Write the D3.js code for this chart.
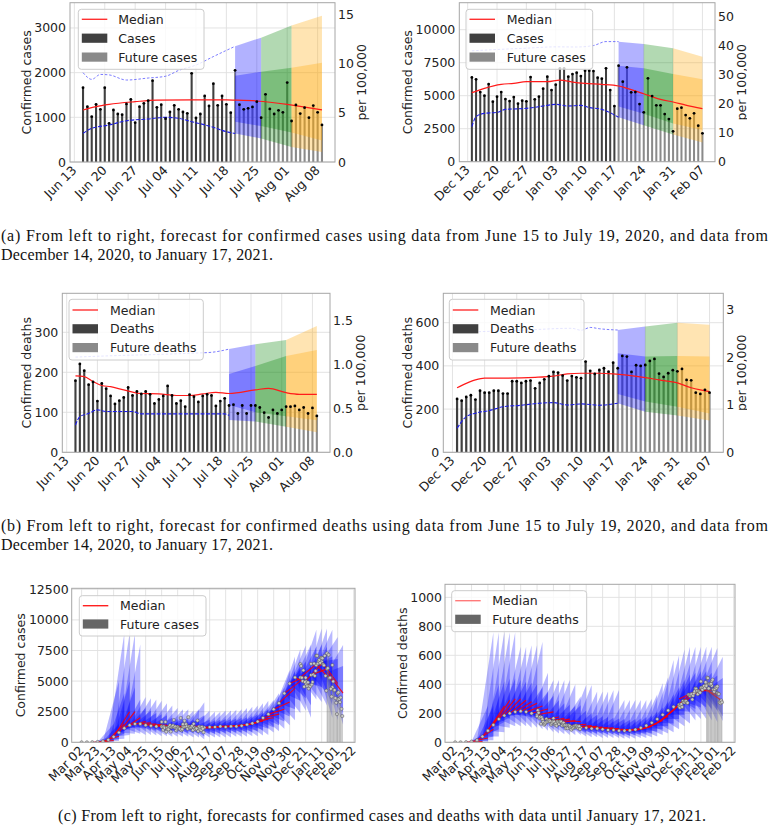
<!DOCTYPE html>
<html>
<head>
<meta charset="utf-8">
<script src="https://cdn.jsdelivr.net/npm/d3@7"></script>
<style>
html,body{margin:0;padding:0;background:#fff;}
svg{display:block;}
</style>
</head>
<body>
<svg id="fig" width="770" height="829" xmlns="http://www.w3.org/2000/svg"></svg>
<script>
// ======================= DATA =======================
const PER_100K = 220; // counts corresponding to 1 per 100,000

// ---- (a) left: cases, data Jun 15 - Jul 19 2020, forecast to Aug 09
const aLeftStart = "2020-06-15";
const aLeftObserved = [1664,1239,1015,1291,1179,1664,866,1164,1075,1060,1299,1403,881,1239,1313,1373,1821,1224,1284,970,1119,1269,1179,1119,1090,1985,985,1075,1478,1254,1754,1269,1478,1291,1104];
const aLeftFuture = [2053,1284,1180,1201,1232,1351,993,1515,1187,1075,1157,1112,1777,918,1277,1083,1217,993,1262,1112,829];
const aLeftMedian = [["2020-06-15",1164],["2020-06-18",1240],["2020-06-21",1290],["2020-06-27",1350],["2020-07-02",1385],["2020-07-10",1392],["2020-07-18",1390],["2020-07-20",1385],["2020-07-25",1365],["2020-08-01",1290],["2020-08-09",1165]];
const aLeftUpper = [["2020-06-15",2000],["2020-06-17",1850],["2020-06-19",1960],["2020-06-21",1950],["2020-06-25",1835],["2020-06-30",1880],["2020-07-04",1920],["2020-07-07",2050],["2020-07-11",2170],["2020-07-15",2360],["2020-07-20",2590]];
const aLeftLower = [["2020-06-15",642],["2020-06-17",754],["2020-06-21",828],["2020-06-25",925],["2020-06-30",963],["2020-07-04",1000],["2020-07-07",977],["2020-07-10",903],["2020-07-14",806],["2020-07-18",679],["2020-07-20",637]];
const aLeftBandDates = ["2020-07-20","2020-07-26","2020-08-02","2020-08-09"];
const aLeftHi95 = [2592,2784,3054,3274];
const aLeftHi50 = [1933,2021,2109,2219];
const aLeftLo50 = [901,804,659,483];
const aLeftLo95 = [637,527,338,226];
const aLeftXTicks = ["2020-06-13","2020-06-20","2020-06-27","2020-07-04","2020-07-11","2020-07-18","2020-07-25","2020-08-01","2020-08-08"];
const aLeftYTicks = [0,1000,2000,3000];
const aLeftRTicks = [0,5,10,15];

// ---- (a) right: cases, data Dec 14 2020 - Jan 17 2021, forecast to Feb 07
const aRightStart = "2020-12-14";
const aRightObserved = [6388,6237,5277,5000,5883,4545,4924,5277,4747,4596,4899,4394,4621,4570,6414,4722,4924,5530,6439,5429,5833,7070,7070,6439,6641,6742,6489,6893,6893,6868,6363,6287,7070,5429,4217];
const aRightFuture = [7272,6060,7146,5252,5277,4368,3737,6313,4974,4267,4267,3611,3232,2298,4015,4091,3535,3283,3661,2727,2146];
const aRightMedian = [["2020-12-14",5227],["2020-12-17",5555],["2020-12-21",5858],["2020-12-24",5934],["2020-12-27",6060],["2021-01-01",6060],["2021-01-04",6186],["2021-01-07",6035],["2021-01-10",5934],["2021-01-14",5858],["2021-01-18",5732],["2021-01-20",5555],["2021-01-24",5150],["2021-01-28",4722],["2021-01-31",4520],["2021-02-03",4292],["2021-02-07",4015]];
const aRightUpper = [["2020-12-14",8400],["2020-12-20",8500],["2020-12-27",8600],["2021-01-03",8700],["2021-01-08",8690],["2021-01-12",8800],["2021-01-15",9100],["2021-01-18",9096]];
const aRightLower = [["2020-12-14",2651],["2020-12-15",3409],["2020-12-17",3661],["2020-12-20",3737],["2020-12-22",3964],["2020-12-27",4040],["2020-12-31",4217],["2021-01-03",4343],["2021-01-06",4217],["2021-01-09",4267],["2021-01-11",4100],["2021-01-14",3964],["2021-01-18",3361]];
const aRightBandDates = ["2021-01-18","2021-01-24","2021-01-31","2021-02-07"];
const aRightHi95 = [9096,8920,8590,7953];
const aRightHi50 = [7272,7074,6635,6239];
const aRightLo50 = [4174,3625,2900,2395];
const aRightLo95 = [3361,2768,2065,1450];
const aRightXTicks = ["2020-12-13","2020-12-20","2020-12-27","2021-01-03","2021-01-10","2021-01-17","2021-01-24","2021-01-31","2021-02-07"];
const aRightYTicks = [0,2500,5000,7500,10000];
const aRightRTicks = [0,10,20,30,40,50];

// ---- (b) left: deaths
const bLeftObserved = [179,221,204,169,176,128,172,159,141,121,129,137,162,142,152,146,152,145,122,132,141,166,142,122,129,114,144,139,126,141,145,142,116,128,135];
const bLeftFuture = [117,119,97,117,97,117,117,112,99,87,106,97,106,114,114,116,106,112,97,111,91];
const bLeftMedian = [["2020-06-15",191],["2020-06-17",189],["2020-06-19",177],["2020-06-21",167],["2020-06-23",164],["2020-06-26",156],["2020-06-30",147],["2020-07-04",146],["2020-07-08",142],["2020-07-11",142],["2020-07-14",146],["2020-07-17",150],["2020-07-20",147],["2020-07-26",156],["2020-07-29",160],["2020-08-02",149],["2020-08-05",145],["2020-08-09",145]];
const bLeftUpper = [["2020-06-15",238],["2020-06-25",242],["2020-07-05",245],["2020-07-12",248],["2020-07-16",250],["2020-07-20",258]];
const bLeftLower = [["2020-06-15",68],["2020-06-16",89],["2020-06-18",97],["2020-06-20",106],["2020-06-22",102],["2020-06-28",102],["2020-06-30",96],["2020-07-19",96],["2020-07-20",92]];
const bLeftHi95 = [258,270,281,316];
const bLeftHi50 = [196,216,241,256];
const bLeftLo50 = [118,100,90,80];
const bLeftLo95 = [81,77,64,50];
const bLeftYTicks = [0,100,200,300];
const bLeftRTicks = [0,0.5,1.0,1.5];

// ---- (b) right: deaths
const bRightObserved = [247,239,256,264,244,285,276,276,285,285,272,272,329,329,321,329,332,296,321,338,352,372,369,355,332,353,347,343,420,377,363,381,389,373,415];
const bRightFuture = [389,446,443,372,403,400,404,423,432,364,349,366,380,375,386,335,333,276,270,289,276];
const bRightMedian = [["2020-12-14",299],["2020-12-16",319],["2020-12-18",335],["2020-12-20",343],["2020-12-24",343],["2020-12-31",347],["2021-01-04",353],["2021-01-07",363],["2021-01-10",366],["2021-01-14",366],["2021-01-17",363],["2021-01-20",357],["2021-01-24",346],["2021-01-27",335],["2021-01-31",321],["2021-02-03",299],["2021-02-05",289],["2021-02-07",281]];
const bRightUpper = [["2020-12-14",555],["2020-12-28",565],["2021-01-08",574],["2021-01-10",565],["2021-01-12",578],["2021-01-14",572],["2021-01-18",566]];
const bRightLower = [["2020-12-14",111],["2020-12-16",165],["2020-12-18",181],["2020-12-21",193],["2020-12-24",211],["2020-12-28",218],["2021-01-01",227],["2021-01-04",230],["2021-01-07",219],["2021-01-10",224],["2021-01-14",218],["2021-01-18",227]];
const bRightHi95 = [566,582,600,590];
const bRightHi50 = [458,443,446,443];
const bRightLo50 = [270,235,211,180];
const bRightLo95 = [227,188,170,147];
const bRightYTicks = [0,200,400,600];
const bRightRTicks = [0,1,2,3];

// ---- (c) full-period forecasts (weekly runs of 21 days, starting Mondays)
const cObsStart = "2020-03-02";      // weekly observed values from this Monday
const cCasesWeekly = [0,2,10,30,80,200,450,800,1150,1400,1500,1500,1400,1350,1300,1300,1200,1300,1200,1300,1250,1250,1150,1200,1250,1250,1300,1250,1300,1300,1350,1450,1550,1700,2000,2300,2700,3200,4000,4800,5300,5300,5000,5500,6300,6600,6000,4500,3500];
const cDeathsWeekly = [0,0,1,5,15,40,80,120,160,185,200,210,215,210,200,190,155,145,145,135,115,105,105,100,100,95,95,90,85,85,80,80,82,88,100,115,135,160,190,220,245,260,280,320,350,375,400,390,340];
const cRunStart = "2020-03-16";      // first forecast run, then every 7 days
const cCasesMed0  = [10,30,80,200,450,800,1150,1400,1500,1500,1400,1350,1300,1300,1200,1300,1200,1300,1380,1250,1150,1200,1250,1250,1300,1250,1300,1300,1350,1450,1550,1800,2000,2300,2700,3200,4000,4800,5300,5300,5000,5500,6300,6600,5730];
const cCasesMed21 = [60,150,500,1500,2500,2500,2000,1700,1600,1500,1450,1400,1350,1300,1250,1300,1250,1300,1160,1250,1200,1250,1300,1300,1350,1400,1450,1500,1600,1750,1900,2000,2300,2700,3300,4400,5000,5400,4600,6400,6400,6000,5000,4800,4015];
const cCasesHi50  = [150,400,1500,4000,5000,4500,3500,2800,2600,2400,2300,2200,2000,1900,1900,1900,1850,1900,2220,1850,1800,1850,1900,1900,1950,2000,2050,2150,2300,2500,2700,2800,3200,3600,4500,5800,6300,6600,6200,7800,8000,7800,7000,6800,6240];
const cCasesHi95  = [400,1500,5000,8900,8900,8900,8000,3700,3600,3500,3400,3200,3000,2800,2700,2700,2600,2700,3270,2600,2500,2500,2600,2600,2650,2700,2800,2900,3000,3200,3400,3450,4000,4500,5900,7000,7600,7900,8000,9200,9300,9300,9200,8600,7950];
const cCasesLo50  = [30,80,250,700,1200,1300,1200,1100,1000,950,900,850,800,800,750,750,750,700,480,700,700,700,750,750,800,800,850,850,900,1000,1100,1200,1400,1700,2100,2700,3400,3600,3000,4600,4500,4000,3000,2800,2395];
const cCasesLo95  = [10,30,100,300,600,700,700,600,600,550,500,500,450,450,450,450,400,400,230,400,400,400,400,400,450,450,450,500,500,550,600,800,900,1100,1400,1800,2400,2600,2000,3500,3300,3000,2000,1800,1450];
const cDeathsMed0  = [1,5,15,40,80,120,160,185,200,210,215,210,200,190,155,145,145,135,147,115,105,105,100,100,95,95,90,85,85,80,80,82,88,100,115,135,160,190,220,299,280,320,350,370,363];
const cDeathsMed21 = [5,30,90,180,250,290,300,300,290,280,270,250,230,210,175,165,160,150,144,125,115,110,105,100,100,95,90,88,90,95,100,110,130,150,180,220,260,300,330,350,370,370,360,330,281];
const cDeathsHi50  = [15,80,250,400,420,440,440,430,420,410,400,380,350,320,290,270,260,250,256,220,200,190,180,175,170,165,160,155,160,165,175,185,210,240,280,330,380,430,470,480,490,490,480,460,443];
const cDeathsHi95  = [40,250,760,760,760,760,760,660,660,670,670,694,480,430,430,430,430,400,316,395,395,350,350,350,360,360,292,292,292,292,292,300,330,407,450,568,600,640,660,660,660,660,660,650,590];
const cDeathsLo50  = [2,10,40,90,140,170,190,190,180,170,160,150,130,120,105,95,90,85,80,70,65,60,60,55,55,50,50,45,50,55,60,65,75,90,110,130,160,190,210,230,240,240,230,220,180];
const cDeathsLo95  = [0,3,15,40,70,100,110,110,110,100,100,90,80,70,60,55,50,50,50,40,35,35,30,30,30,30,25,25,25,30,30,35,40,50,60,70,90,110,130,150,160,160,150,140,147];
const cXTicks = ["2020-03-02","2020-03-23","2020-04-13","2020-05-04","2020-05-25","2020-06-15","2020-07-06","2020-07-27","2020-08-17","2020-09-07","2020-09-28","2020-10-19","2020-11-09","2020-11-30","2020-12-21","2021-01-11","2021-02-01","2021-02-22"];
const cCasesYTicks = [0,2500,5000,7500,10000,12500];
const cDeathsYTicks = [0,200,400,600,800,1000];

// ======================= DRAWING =======================
const svg = d3.select("#fig");
const FONT = "'DejaVu Sans', Verdana, sans-serif";
const FS = 12.5;
const parse = d3.utcParse("%Y-%m-%d");
const addDays = (d, n) => new Date(+d + n * 864e5);
const fmt = d3.utcFormat("%b %d");
const BAND_COLORS = ["#0000ff", "#008000", "#ffa500"];
let clipN = 0;

function clip(x0, y0, x1, y1) {
  const id = "clp" + (clipN++);
  svg.append("clipPath").attr("id", id).append("rect")
    .attr("x", x0).attr("y", y0).attr("width", x1 - x0).attr("height", y1 - y0);
  return "url(#" + id + ")";
}

function grid(g, x, y, xt, yt, b) {
  g.selectAll(null).data(xt).join("line")
    .attr("x1", d => x(d)).attr("x2", d => x(d)).attr("y1", b.top).attr("y2", b.bottom)
    .attr("stroke", "#e0e0e0").attr("stroke-width", 0.9);
  g.selectAll(null).data(yt).join("line")
    .attr("x1", b.left).attr("x2", b.right).attr("y1", d => y(d)).attr("y2", d => y(d))
    .attr("stroke", "#e0e0e0").attr("stroke-width", 0.9);
}

function frame(g, b) {
  g.append("rect").attr("x", b.left).attr("y", b.top).attr("width", b.right - b.left)
    .attr("height", b.bottom - b.top).attr("fill", "none").attr("stroke", "#a6a6a6").attr("stroke-width", 1);
}

function xLabels(g, x, ticks, bottom) {
  g.selectAll(null).data(ticks).join("text")
    .attr("transform", d => `translate(${x(d) + 3},${bottom + 9}) rotate(-45)`)
    .attr("text-anchor", "end").attr("font-family", FONT).attr("font-size", FS).attr("fill", "#222")
    .text(d => fmt(d));
}

function yLabels(g, y, ticks, xPos, anchor, f) {
  g.selectAll(null).data(ticks).join("text")
    .attr("x", xPos).attr("y", d => y(d)).attr("dy", "0.36em")
    .attr("text-anchor", anchor).attr("font-family", FONT).attr("font-size", FS).attr("fill", "#222")
    .text(d => f ? f(d) : d);
}

function vLabel(g, xPos, yMid, s, clipPath) {
  const t = g.append("text").attr("transform", `translate(${xPos},${yMid}) rotate(-90)`)
    .attr("text-anchor", "middle").attr("font-family", FONT).attr("font-size", FS).attr("fill", "#222").text(s);
  if (clipPath) {
    const w = g.append("g").attr("clip-path", clipPath);
    w.node().appendChild(t.node());
  }
}

function legend(g, L) {
  g.append("rect").attr("x", L.x).attr("y", L.y).attr("width", L.w).attr("height", L.h)
    .attr("rx", 3).attr("fill", "#fff").attr("fill-opacity", 0.8).attr("stroke", "#cccccc").attr("stroke-width", 1);
  L.items.forEach((it, i) => {
    const cy = L.y + L.first + i * L.step;
    if (it.type === "line") {
      g.append("line").attr("x1", L.x + 3.5).attr("x2", L.x + 29).attr("y1", cy).attr("y2", cy)
        .attr("stroke", it.color).attr("stroke-width", 1.4);
    } else {
      g.append("rect").attr("x", L.x + 3.5).attr("y", cy - 4.6).attr("width", 25.5).attr("height", 9.2)
        .attr("fill", it.color);
    }
    g.append("text").attr("x", L.x + L.tx).attr("y", cy).attr("dy", "0.36em")
      .attr("font-family", FONT).attr("font-size", FS).attr("fill", "#222").text(it.label);
  });
}

function barPanel(c) {
  const start = parse(c.start);
  const vals = c.observed.concat(c.future);
  const n = vals.length;
  const b = c.box;
  const x = d3.scaleUtc().domain([addDays(start, -3), addDays(start, n - 1 + 3)]).range([b.left, b.right]);
  const y = d3.scaleLinear().domain([0, c.yMax]).range([b.bottom, b.top]);
  const y2 = d3.scaleLinear().domain([0, c.yMax / PER_100K]).range([b.bottom, b.top]);
  const g = svg.append("g");
  grid(g, x, y, c.xTicks.map(parse), c.yTicks, b);
  const p = g.append("g").attr("clip-path", clip(b.left, b.top, b.right, b.bottom));
  const bw = (x(addDays(start, 1)) - x(start)) * 0.48;
  p.selectAll(null).data(vals).join("rect")
    .attr("x", (d, i) => x(addDays(start, i)) - bw / 2).attr("y", d => y(d))
    .attr("width", bw).attr("height", d => y(0) - y(d))
    .attr("fill", (d, i) => i < c.observed.length ? "#404040" : "#8a8a8a");
  const bd = c.bandDates.map(parse);
  for (let k = 0; k < bd.length - 1; k++) {
    const outer = [k, k + 1].map(j => ({ t: bd[j], lo: c.lo95[j], hi: c.hi95[j] }));
    const inner = [k, k + 1].map(j => ({ t: bd[j], lo: c.lo50[j], hi: c.hi50[j] }));
    const ar = d3.area().x(d => x(d.t)).y0(d => y(d.lo)).y1(d => y(d.hi));
    p.append("path").attr("d", ar(outer)).attr("fill", BAND_COLORS[k]).attr("fill-opacity", 0.3);
    p.append("path").attr("d", ar(inner)).attr("fill", BAND_COLORS[k]).attr("fill-opacity", 0.3);
  }
  const ln = d3.line().x(d => x(parse(d[0]))).y(d => y(d[1])).curve(d3.curveMonotoneX);
  p.append("path").attr("d", ln(c.upper)).attr("fill", "none").attr("stroke", "#5a5aff")
    .attr("stroke-width", 1).attr("stroke-dasharray", "2.5,1.8").attr("stroke-opacity", 0.8);
  p.append("path").attr("d", ln(c.lower)).attr("fill", "none").attr("stroke", "#1f1fe6")
    .attr("stroke-width", 1.1).attr("stroke-dasharray", "4,1.5");
  p.append("path").attr("d", ln(c.median)).attr("fill", "none").attr("stroke", "#ff1a1a").attr("stroke-width", 1.2);
  p.selectAll(null).data(vals).join("circle")
    .attr("cx", (d, i) => x(addDays(start, i))).attr("cy", d => y(d)).attr("r", 1.4).attr("fill", "#000");
  frame(g, b);
  legend(g, c.legend);
  yLabels(g, y, c.yTicks, b.left - 4, "end");
  yLabels(g, y2, c.rTicks, b.right + 3, "start", c.rFmt);
  xLabels(g, x, c.xTicks.map(parse), b.bottom);
  vLabel(g, c.yLabelX, (b.top + b.bottom) / 2, c.yLabel);
  vLabel(g, c.rLabelX, (b.top + b.bottom) / 2, "per 100,000", c.rClip ? clip(0, 0, c.rClip, 829) : null);
}

function cPanel(c) {
  const b = c.box;
  const x = d3.scaleUtc().domain([parse("2020-02-18"), addDays(parse("2021-02-23"), 0.7)]).range([b.left, b.right]);
  const y = d3.scaleLinear().domain([0, c.yMax]).range([b.bottom, b.top]);
  const g = svg.append("g");
  grid(g, x, y, cXTicks.map(parse), c.yTicks, b);
  const p = g.append("g").attr("clip-path", clip(b.left, b.top, b.right, b.bottom));
  const r0 = parse(cRunStart);
  const runs = c.med0.map((m, i) => ({
    t0: addDays(r0, 7 * i), t1: addDays(r0, 7 * i + 21), m0: m, m1: c.med21[i],
    h95: c.hi95[i], h50: c.hi50[i], l50: c.lo50[i], l95: c.lo95[i]
  }));
  const tri = (t0, v0, t1, hi, lo) => `M${x(t0)},${y(v0)}L${x(t1)},${y(hi)}L${x(t1)},${y(lo)}Z`;
  runs.forEach(r => p.append("path").attr("d", tri(r.t0, r.m0, r.t1, r.h95, r.l95)).attr("fill", "#0000ff").attr("fill-opacity", 0.28));
  runs.forEach(r => p.append("path").attr("d", tri(r.t0, r.m0, r.t1, r.h50, r.l50)).attr("fill", "#0000ff").attr("fill-opacity", 0.33));
  runs.forEach(r => p.append("line").attr("x1", x(r.t0)).attr("y1", y(r.m0)).attr("x2", x(r.t1)).attr("y2", y(r.m1))
    .attr("stroke", "#ff0000").attr("stroke-width", 1.1).attr("stroke-opacity", 0.9));
  const fs = parse(c.futureStart);
  const bw = (x(addDays(fs, 1)) - x(fs)) * 0.6;
  p.selectAll(null).data(c.future).join("rect")
    .attr("x", (d, i) => x(addDays(fs, i)) - bw / 2).attr("y", d => y(d)).attr("width", bw)
    .attr("height", d => y(0) - y(d)).attr("fill", "#7a7a7a").attr("fill-opacity", 0.8);
  const os = parse(cObsStart);
  const pts = c.weekly.map((v, i) => [addDays(os, 7 * i), v])
    .concat(c.daily.flatMap(s => s.values.map((v, i) => [addDays(parse(s.start), i), v])));
  p.selectAll(null).data(pts).join("circle")
    .attr("cx", d => x(d[0])).attr("cy", d => y(d[1])).attr("r", 1.6)
    .attr("fill", "#c8c8c8").attr("stroke", "#555").attr("stroke-width", 0.5);
  frame(g, b);
  legend(g, c.legend);
  yLabels(g, y, c.yTicks, b.left - 3, "end");
  xLabels(g, x, cXTicks.map(parse), b.bottom);
  vLabel(g, c.yLabelX, (b.top + b.bottom) / 2, c.yLabel);
}

barPanel({
  start: aLeftStart, observed: aLeftObserved, future: aLeftFuture, yMax: 3566,
  box: { left: 70, right: 335, top: 2.7, bottom: 162 },
  median: aLeftMedian, upper: aLeftUpper, lower: aLeftLower,
  bandDates: aLeftBandDates, hi95: aLeftHi95, hi50: aLeftHi50, lo50: aLeftLo50, lo95: aLeftLo95,
  xTicks: aLeftXTicks, yTicks: aLeftYTicks, rTicks: aLeftRTicks,
  yLabel: "Confirmed cases", yLabelX: 31, rLabelX: 366,
  legend: { x: 78.3, y: 9.3, w: 125.7, h: 60, first: 10, step: 18.9, tx: 40,
    items: [{ type: "line", color: "#ff3030", label: "Median" }, { type: "patch", color: "#404040", label: "Cases" }, { type: "patch", color: "#8a8a8a", label: "Future cases" }] }
});
barPanel({
  start: aRightStart, observed: aRightObserved, future: aRightFuture, yMax: 12045,
  box: { left: 459.3, right: 715, top: 2.7, bottom: 161.7 },
  median: aRightMedian, upper: aRightUpper, lower: aRightLower,
  bandDates: aRightBandDates, hi95: aRightHi95, hi50: aRightHi50, lo50: aRightLo50, lo95: aRightLo95,
  xTicks: aRightXTicks, yTicks: aRightYTicks, rTicks: aRightRTicks,
  yLabel: "Confirmed cases", yLabelX: 412, rLabelX: 746, rClip: 747,
  legend: { x: 466, y: 9.3, w: 126.7, h: 60, first: 10, step: 18.9, tx: 40.7,
    items: [{ type: "line", color: "#ff3030", label: "Median" }, { type: "patch", color: "#404040", label: "Cases" }, { type: "patch", color: "#8a8a8a", label: "Future cases" }] }
});
barPanel({
  start: aLeftStart, observed: bLeftObserved, future: bLeftFuture, yMax: 397.5,
  box: { left: 62.3, right: 330, top: 293.3, bottom: 452.3 },
  median: bLeftMedian, upper: bLeftUpper, lower: bLeftLower,
  bandDates: aLeftBandDates, hi95: bLeftHi95, hi50: bLeftHi50, lo50: bLeftLo50, lo95: bLeftLo95,
  xTicks: aLeftXTicks, yTicks: bLeftYTicks, rTicks: bLeftRTicks, rFmt: d3.format(".1f"),
  yLabel: "Confirmed deaths", yLabelX: 30.5, rLabelX: 365,
  legend: { x: 69, y: 299.3, w: 134.3, h: 60.7, first: 10.7, step: 18.8, tx: 41,
    items: [{ type: "line", color: "#ff3030", label: "Median" }, { type: "patch", color: "#404040", label: "Deaths" }, { type: "patch", color: "#8a8a8a", label: "Future deaths" }] }
});
barPanel({
  start: aRightStart, observed: bRightObserved, future: bRightFuture, yMax: 736,
  box: { left: 443.3, right: 723.3, top: 293.3, bottom: 452.3 },
  median: bRightMedian, upper: bRightUpper, lower: bRightLower,
  bandDates: aRightBandDates, hi95: bRightHi95, hi50: bRightHi50, lo50: bRightLo50, lo95: bRightLo95,
  xTicks: aRightXTicks, yTicks: bRightYTicks, rTicks: bRightRTicks,
  yLabel: "Confirmed deaths", yLabelX: 412, rLabelX: 746, rClip: 747,
  legend: { x: 449.3, y: 299.3, w: 134.7, h: 60.7, first: 10.7, step: 18.8, tx: 40.7,
    items: [{ type: "line", color: "#ff3030", label: "Median" }, { type: "patch", color: "#404040", label: "Deaths" }, { type: "patch", color: "#8a8a8a", label: "Future deaths" }] }
});
cPanel({
  box: { left: 71.7, right: 355, top: 588.3, bottom: 742.3 }, yMax: 12582, yTicks: cCasesYTicks,
  med0: cCasesMed0, med21: cCasesMed21, hi50: cCasesHi50, hi95: cCasesHi95, lo50: cCasesLo50, lo95: cCasesLo95,
  weekly: cCasesWeekly,
  daily: [{ start: aLeftStart, values: aLeftObserved.concat(aLeftFuture) }, { start: aRightStart, values: aRightObserved.concat(aRightFuture) }],
  futureStart: "2021-01-18", future: aRightFuture,
  yLabel: "Confirmed cases", yLabelX: 25,
  legend: { x: 79.3, y: 595.7, w: 126.7, h: 40.3, first: 10, step: 18.3, tx: 40.7,
    items: [{ type: "line", color: "#ff2020", label: "Median" }, { type: "patch", color: "#666666", label: "Future cases" }] }
});
cPanel({
  box: { left: 445, right: 735, top: 584.3, bottom: 742.3 }, yMax: 1090, yTicks: cDeathsYTicks,
  med0: cDeathsMed0, med21: cDeathsMed21, hi50: cDeathsHi50, hi95: cDeathsHi95, lo50: cDeathsLo50, lo95: cDeathsLo95,
  weekly: cDeathsWeekly,
  daily: [{ start: aLeftStart, values: bLeftObserved.concat(bLeftFuture) }, { start: aRightStart, values: bRightObserved.concat(bRightFuture) }],
  futureStart: "2021-01-18", future: bRightFuture,
  yLabel: "Confirmed deaths", yLabelX: 407,
  legend: { x: 451.7, y: 590.7, w: 135, h: 41, first: 10, step: 18.6, tx: 40.6,
    items: [{ type: "line", color: "#ff7a7a", label: "Median" }, { type: "patch", color: "#666666", label: "Future deaths" }] }
});

const SERIF = "'Liberation Serif', 'Times New Roman', serif";
function caption(x, y, s, len, anchor) {
  const t = svg.append("text").attr("x", x).attr("y", y).attr("font-family", SERIF).attr("font-size", 16)
    .attr("fill", "#111").attr("text-anchor", anchor || "start").text(s);
  if (len) t.attr("textLength", len).attr("lengthAdjust", "spacing");
}
caption(1, 241, "(a) From left to right, forecast for confirmed cases using data from June 15 to July 19, 2020, and data from", 767);
caption(1, 260, "December 14, 2020, to January 17, 2021.", 272);
caption(1, 531, "(b) From left to right, forecast for confirmed deaths using data from June 15 to July 19, 2020, and data from", 767);
caption(1, 550, "December 14, 2020, to January 17, 2021.", 272);
caption(382, 821, "(c) From left to right, forecasts for confirmed cases and deaths with data until January 17, 2021.", 648, "middle");
</script>
</body>
</html>
